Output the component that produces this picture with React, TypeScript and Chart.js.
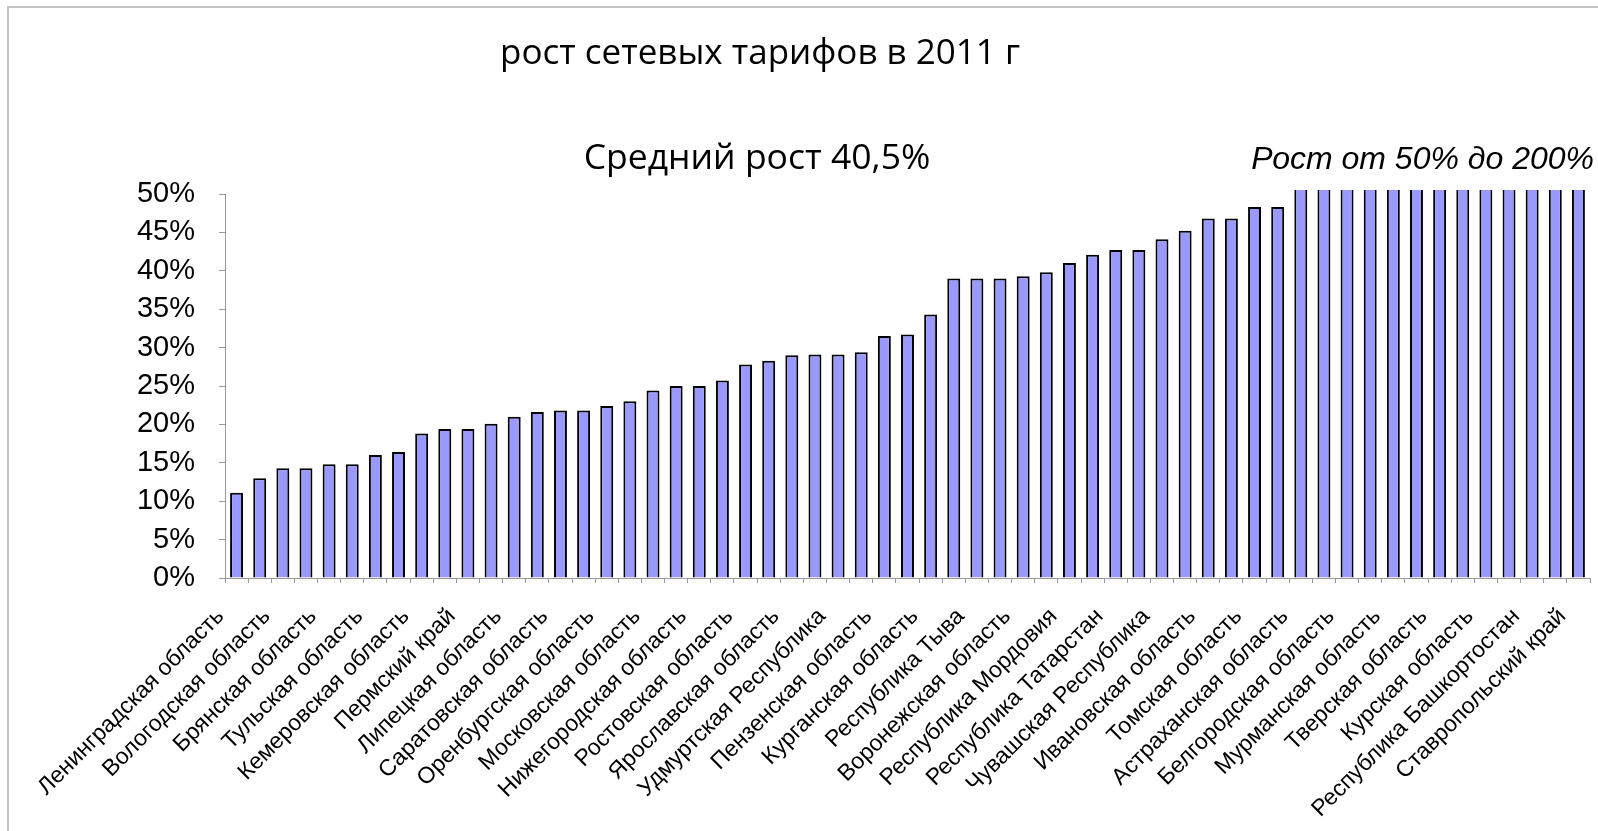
import React, { useEffect, useRef } from "react";
import { Chart, registerables } from "chart.js";

Chart.register(...registerables);

// Regions, in the order of the bars; unnamed ticks are left blank
const regionLabels: string[] = [
  "Ленинградская область", "", "Вологодская область", "", "Брянская область", "",
  "Тульская область", "", "Кемеровская область", "", "Пермский край", "",
  "Липецкая область", "", "Саратовская область", "", "Оренбургская область", "",
  "Московская область", "", "Нижегородская область", "", "Ростовская область", "",
  "Ярославская область", "", "Удмуртская Республика", "", "Пензенская область", "",
  "Курганская область", "", "Республика Тыва", "", "Воронежская область", "",
  "Республика Мордовия", "", "Республика Татарстан", "", "Чувашская Республика", "",
  "Ивановская область", "", "Томская область", "", "Астраханская область", "",
  "Белгородская область", "", "Мурманская область", "", "Тверская область", "",
  "Курская область", "", "Республика Башкортостан", "", "Ставропольский край",
];

// Tariff growth, %
const growthPercent: number[] = [
  11.1, 13.0, 14.3, 14.3, 14.8, 14.8, 16.0, 16.4, 18.8, 19.4,
  19.4, 20.1, 21.0, 21.6, 21.8, 21.8, 22.4, 23.0, 24.4, 25.0,
  25.0, 25.7, 27.8, 28.3, 29.0, 29.1, 29.1, 29.4, 31.5, 31.7,
  34.3, 39.0, 39.0, 39.0, 39.3, 39.8, 41.0, 42.1, 42.7, 42.7,
  44.1, 45.2, 46.8, 46.8, 48.3, 48.3,
  // growth from 50% to 200%, beyond the axis range
  52, 55, 58, 62, 67, 73, 80, 88, 98, 112, 130, 160, 200,
];

const yTicks: number[] = [0, 5, 10, 15, 20, 25, 30, 35, 40, 45, 50];

const chartTitle = "рост сетевых тарифов в 2011 г";
const averageNote = "Средний рост 40,5%";
const rangeNote = "Рост от 50% до 200%";

const headingPlugin = {
  id: "headings",
  afterDraw(chart: Chart) {
    const ctx = chart.ctx;
    ctx.save();
    ctx.fillStyle = "#000";
    ctx.textBaseline = "middle";
    ctx.textAlign = "center";
    ctx.font = '35px "Open Sans", sans-serif';
    ctx.fillText(chartTitle, 760, 54);
    ctx.font = '35.5px "Open Sans", sans-serif';
    ctx.fillText(averageNote, 757, 159);
    ctx.textAlign = "right";
    ctx.font = 'italic 32px "Liberation Sans", Arial, sans-serif';
    ctx.fillText(rangeNote, 1594, 160);
    ctx.restore();
  },
};

export default function App() {
  const canvasRef = useRef<HTMLCanvasElement | null>(null);

  useEffect(() => {
    const canvas = canvasRef.current;
    if (!canvas) return;
    const chart = new Chart(canvas, {
      type: "bar",
      data: {
        labels: regionLabels,
        datasets: [
          {
            data: growthPercent,
            backgroundColor: "#9999ff",
            borderColor: "#000000",
            borderWidth: 2,
            categoryPercentage: 1,
            barPercentage: 0.56,
            clip: { left: 0, top: 4, right: 0, bottom: 0 },
          },
        ],
      },
      options: {
        responsive: false,
        animation: false,
        devicePixelRatio: 1,
        layout: { padding: { left: 0, top: 194, right: 8, bottom: 0 } },
        plugins: {
          legend: { display: false },
          tooltip: { enabled: false },
          title: { display: false },
        },
        scales: {
          x: {
            ticks: {
              autoSkip: false,
              maxRotation: 45,
              minRotation: 45,
              padding: 20,
              labelOffset: -16,
              color: "#000",
              font: { family: '"Liberation Sans", Arial, sans-serif', size: 23 },
            },
            grid: {
              drawOnChartArea: false,
              drawTicks: true,
              tickLength: 5,
              color: "#999",
              offset: true,
            },
            border: { display: true, color: "#999", width: 1 },
            afterFit: (scale: any) => {
              scale.height = 253;
              scale.paddingLeft = 0;
              scale.paddingRight = 0;
            },
          },
          y: {
            min: 0,
            max: 50,
            afterBuildTicks: (scale: any) => {
              scale.ticks = yTicks.map((v) => ({ value: v }));
            },
            ticks: {
              callback: (v: any) => `${v}%`,
              padding: 24,
              color: "#000",
              font: { family: '"Liberation Sans", Arial, sans-serif', size: 29 },
            },
            grid: {
              drawOnChartArea: false,
              drawTicks: true,
              tickLength: 6,
              color: "#999",
            },
            border: { display: true, color: "#999", width: 1 },
            afterFit: (scale: any) => {
              scale.width = 225;
            },
          },
        },
      },
      plugins: [headingPlugin],
    });
    return () => chart.destroy();
  }, []);

  return (
    <div
      style={{
        position: "absolute",
        left: 0,
        top: 0,
        width: 1598,
        height: 831,
        background: "#fff",
        overflow: "hidden",
      }}
    >
      <div
        style={{
          position: "absolute",
          left: 7,
          top: 6,
          right: 0,
          bottom: 0,
          borderTop: "2px solid #c4c4c4",
          borderLeft: "2px solid #c4c4c4",
        }}
      />
      <canvas
        ref={canvasRef}
        width={1598}
        height={831}
        style={{ position: "absolute", left: 0, top: 0 }}
      />
    </div>
  );
}
